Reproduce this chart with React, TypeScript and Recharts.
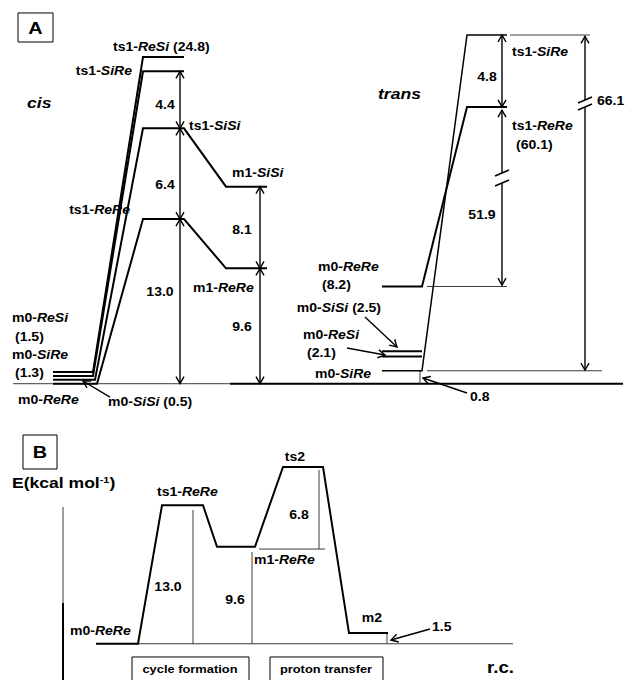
import React from "react";
import {
  ComposedChart,
  Line,
  XAxis,
  YAxis,
  ReferenceLine,
  ReferenceDot,
  ReferenceArea,
} from "recharts";

const FONT = '"Liberation Sans", Arial, Helvetica, sans-serif';
const SX = 1.17; // the original lettering is stretched sideways
const INK = "#000";
const THIN = "#3a3a3a";

// ---------- panel A, cis (drawn level heights) ----------
const cisIsomers = ["ReSi", "SiRe", "SiSi", "ReRe"];
const cisM0 = [0.9, 0.6, 0.3, 0];
const cisTs1 = [25.2, 24.1, 19.7, 12.7];
const cisM1: (number | null)[] = [null, null, 15.2, 8.9];
const cisM0X = [53, 93, 93, 95, 97]; // start, then end for each isomer
const cisTs1X = [143, 184];
const cisM1X = [226, 267];

// ---------- panel A, trans ----------
const transIsomers = ["ReRe", "SiSi", "ReSi", "SiRe"];
const transM0 = [7.5, 2.5, 2.1, 1.0];
const transTs1: (number | null)[] = [21.35, null, null, 26.9];
const transM0X = [382, 422];
const transTs1X = [467, 507];

// ---------- panel B ----------
const bStages = ["m0-ReRe", "ts1-ReRe", "m1-ReRe", "ts2", "m2"];
const bEnergy = [0, 13.0, 9.1, 16.6, 1.0];
const bStageX = [
  [96, 138],
  [162, 203],
  [217, 255],
  [283, 323],
  [349, 388],
];

type P = { x: number; y: number };

const cisPaths = cisIsomers.map((iso, i) => {
  const pts: P[] = [
    { x: cisM0X[0], y: cisM0[i] },
    { x: cisM0X[i + 1], y: cisM0[i] },
    { x: cisTs1X[0], y: cisTs1[i] },
    { x: cisTs1X[1], y: cisTs1[i] },
  ];
  const m1 = cisM1[i];
  if (m1 != null) pts.push({ x: cisM1X[0], y: m1 }, { x: cisM1X[1], y: m1 });
  return { iso, pts };
});

const transPaths = transIsomers.map((iso, i) => {
  const pts: P[] = [
    { x: transM0X[0], y: transM0[i] },
    { x: transM0X[1], y: transM0[i] },
  ];
  const ts = transTs1[i];
  if (ts != null) pts.push({ x: transTs1X[0], y: ts }, { x: transTs1X[1], y: ts });
  return { iso, pts };
});

const bPath: P[] = bStages.flatMap((_, i) => [
  { x: bStageX[i][0], y: bEnergy[i] },
  { x: bStageX[i][1], y: bEnergy[i] },
]);

// thin guide lines [x1, y1, x2, y2, width]
const guidesA = [
  [13, 0, 230, 0, 1],
  [230, 0, 623, 0, 2],
  [427, 7.5, 507, 7.5, 1],
  [427, 1.0, 602, 1.0, 1],
  [510, 26.9, 590, 26.9, 1],
  [420, 1.0, 420, 0, 1],
];

// double-headed measuring arrows [x, top, bottom]
const spansA = [
  [180, 24.1, 19.7],
  [180, 19.7, 12.7],
  [180, 12.7, 0],
  [260, 15.2, 8.9],
  [260, 8.9, 0],
  [502, 26.9, 21.35],
];
// arrows with a break [x, top, breakUpper, breakLower, bottom]
const brokenA = [
  [502, 21.1, 16.25, 15.48, 7.6],
  [585, 26.8, 21.89, 21.35, 1.05],
];
// pointer arrows [fromX, fromY, toX, toY]
const pointersA = [
  [110, -1.03, 83, 0.21],
  [467, -0.72, 423, 0.44],
  [365, 5.15, 397, 2.83],
  [347, 2.75, 385, 2.21],
];

// text [label, x, y, anchor, size]
const labelsA: [string, number, number, string?, number?][] = [
  ["ts1-*ReSi* (24.8)", 113, 25.97],
  ["ts1-*SiRe*", 132, 24.12, "end"],
  ["ts1-*SiSi*", 189, 19.88],
  ["m1-*SiSi*", 232, 16.25],
  ["ts1-*ReRe*", 130, 13.4, "end"],
  ["m1-*ReRe*", 193, 7.38],
  ["m0-*ReSi*", 12, 5.07],
  ["(1.5)", 15, 3.6],
  ["m0-*SiRe*", 12, 2.21],
  ["(1.3)", 15, 0.83],
  ["m0-*ReRe*", 18, -1.26],
  ["m0-*SiSi* (0.5)", 108, -1.41],
  ["4.4", 165, 21.5, "middle"],
  ["6.4", 165, 15.33, "middle"],
  ["13.0", 160, 7.07, "middle"],
  ["8.1", 242, 11.86, "middle"],
  ["9.6", 242, 4.37, "middle"],
  ["ts1-*SiRe*", 512, 25.59],
  ["4.8", 487, 23.66, "middle"],
  ["66.1", 597, 21.81],
  ["ts1-*ReRe*", 512, 19.88],
  ["(60.1)", 516, 18.41],
  ["51.9", 482, 13.01, "middle"],
  ["m0-*ReRe*", 318, 9.0],
  ["(8.2)", 322, 7.61],
  ["m0-*SiSi* (2.5)", 381, 5.84, "end"],
  ["m0-*ReSi*", 303, 3.76],
  ["(2.1)", 307, 2.37],
  ["m0-*SiRe*", 315, 0.75],
  ["0.8", 470, -1.03],
  ["*cis*", 27, 21.65, "start", 15],
  ["*trans*", 378, 22.35, "start", 15],
  ["A", 35.5, 27.44, "middle", 17],
];

const guidesB = [
  [138, 0, 513, 0, 1],
  [63, 12.84, 63, 3.83, 1],
  [63, 3.83, 63, -3.6, 2],
  [193, 12.55, 193, 0, 1],
  [252, 8.61, 252, 0, 1],
  [259, 8.89, 325, 8.89, 1],
  [319, 16.31, 319, 8.89, 1],
  [387, 1.0, 387, 0, 1],
];
const pointersB = [[430, 1.39, 391, 0.35]];
const labelsB: [string, number, number, string?, number?][] = [
  ["E(kcal mol^-1^)", 12, 15.09, "start", 15],
  ["ts1-*ReRe*", 157, 14.24],
  ["ts2", 295, 17.53, "middle"],
  ["6.8", 299, 12.08, "middle"],
  ["m1-*ReRe*", 254, 7.86],
  ["13.0", 168, 5.33, "middle"],
  ["9.6", 235, 4.11, "middle"],
  ["m0-*ReRe*", 70, 1.2],
  ["m2", 372, 2.42, "middle"],
  ["1.5", 432, 1.57],
  ["r.c.", 487, -2.18, "start", 16],
  ["cycle formation", 190, -2.37, "middle", 11],
  ["proton transfer", 326, -2.37, "middle", 11],
  ["B", 40, 18.0, "middle", 17],
];
// boxes [x1, x2, y1, y2]
const boxesA = [[18, 53, 28.6, 26.36]];
const boxesB = [
  [23, 57, 19.59, 16.4],
  [132, 249, -1.24, -3.7],
  [270, 383, -1.24, -3.7],
];

function textShape(str: string, anchor: string, size: number) {
  return (p: any) => {
    const parts: React.ReactNode[] = [];
    let italic = false;
    let sup = false;
    let pending = 0;
    str.split(/([*^])/).forEach((t, i) => {
      if (t === "*") {
        italic = !italic;
        return;
      }
      if (t === "^") {
        sup = !sup;
        pending += sup ? -size * 0.38 : size * 0.38;
        return;
      }
      if (!t) return;
      parts.push(
        <tspan
          key={i}
          fontStyle={italic ? "italic" : "normal"}
          fontSize={sup ? size * 0.62 : size}
          dy={pending || undefined}
        >
          {t}
        </tspan>
      );
      pending = 0;
    });
    return (
      <text
        transform={`translate(${p.cx},${p.cy}) scale(${SX},1)`}
        x={0}
        y={0}
        dy="0.36em"
        textAnchor={anchor as any}
        fontFamily={FONT}
        fontWeight="bold"
        fontSize={size}
        fill={INK}
      >
        {parts}
      </text>
    );
  };
}

function head(hx: number, hy: number, fx: number, fy: number, w: number) {
  const dx = hx - fx;
  const dy = hy - fy;
  const len = Math.hypot(dx, dy) || 1;
  const ux = dx / len;
  const uy = dy / len;
  const L = 7;
  const H = 4;
  const bx = hx - ux * L;
  const by = hy - uy * L;
  return (
    <polyline
      points={`${bx - uy * H},${by + ux * H} ${hx},${hy} ${bx + uy * H},${by - ux * H}`}
      fill="none"
      stroke={INK}
      strokeWidth={w}
    />
  );
}

function arrowShape(start: boolean, end: boolean, w = 1.4) {
  return (p: any) => (
    <g>
      <line x1={p.x1} y1={p.y1} x2={p.x2} y2={p.y2} stroke={INK} strokeWidth={w} />
      {start && head(p.x1, p.y1, p.x2, p.y2, w)}
      {end && head(p.x2, p.y2, p.x1, p.y1, w)}
    </g>
  );
}

const breakShape = (p: any) => (
  <line x1={p.cx - 7} y1={p.cy + 3} x2={p.cx + 7} y2={p.cy - 3} stroke={INK} strokeWidth={1.6} />
);

function profile(key: string, data: P[], w = 2) {
  return (
    <Line
      key={key}
      data={data}
      dataKey="y"
      type="linear"
      stroke={INK}
      strokeWidth={w}
      dot={false}
      activeDot={false}
      legendType="none"
      isAnimationActive={false}
    />
  );
}

function seg(key: string, g: number[]) {
  return (
    <ReferenceLine
      key={key}
      segment={[
        { x: g[0], y: g[1] },
        { x: g[2], y: g[3] },
      ]}
      stroke={g[4] > 1 ? INK : THIN}
      strokeWidth={g[4]}
      ifOverflow="visible"
    />
  );
}

function arrow(key: string, a: number[], start: boolean, end: boolean) {
  return (
    <ReferenceLine
      key={key}
      segment={[
        { x: a[0], y: a[1] },
        { x: a[2], y: a[3] },
      ]}
      ifOverflow="visible"
      shape={arrowShape(start, end)}
    />
  );
}

function texts(prefix: string, list: [string, number, number, string?, number?][]) {
  return list.map(([s, x, y, anchor, size], i) => (
    <ReferenceDot
      key={`${prefix}${i}`}
      x={x}
      y={y}
      r={0}
      ifOverflow="visible"
      shape={textShape(s, anchor || "start", size || 12)}
    />
  ));
}

function boxes(prefix: string, list: number[][]) {
  return list.map((b, i) => (
    <ReferenceArea
      key={`${prefix}${i}`}
      x1={b[0]}
      x2={b[1]}
      y1={b[2]}
      y2={b[3]}
      fill="none"
      stroke={INK}
      strokeWidth={1}
      ifOverflow="visible"
    />
  ));
}

export default function App() {
  return (
    <div style={{ position: "absolute", left: 0, top: 0, width: 627, height: 680, background: "#fff", overflow: "hidden" }}>
      <ComposedChart width={627} height={420} margin={{ top: 0, right: 0, bottom: 0, left: 0 }}>
        <XAxis type="number" dataKey="x" domain={[0, 627]} hide allowDataOverflow />
        <YAxis type="number" domain={[-2.8, 29.6]} hide allowDataOverflow />
        {boxes("ba", boxesA)}
        {guidesA.map((g, i) => seg(`ga${i}`, g))}
        {cisPaths.map((c) => profile(`cis-${c.iso}`, c.pts))}
        {transPaths.map((c) => profile(`trans-${c.iso}`, c.pts, c.iso === "SiRe" ? 1.5 : 2))}
        {spansA.map((s, i) => arrow(`sa${i}`, [s[0], s[1], s[0], s[2]], true, true))}
        {brokenA.map((b, i) => [
          arrow(`bt${i}`, [b[0], b[1], b[0], b[2]], true, false),
          arrow(`bb${i}`, [b[0], b[3], b[0], b[4]], false, true),
          <ReferenceDot key={`bm${i}a`} x={b[0]} y={b[2]} r={0} ifOverflow="visible" shape={breakShape} />,
          <ReferenceDot key={`bm${i}b`} x={b[0]} y={b[3]} r={0} ifOverflow="visible" shape={breakShape} />,
        ])}
        {pointersA.map((p, i) => arrow(`pa${i}`, p, false, true))}
        {texts("ta", labelsA)}
      </ComposedChart>
      <ComposedChart width={627} height={260} margin={{ top: 0, right: 0, bottom: 0, left: 0 }}>
        <XAxis type="number" dataKey="x" domain={[0, 627]} hide allowDataOverflow />
        <YAxis type="number" domain={[-3.4, 21]} hide allowDataOverflow />
        {boxes("bb", boxesB)}
        {guidesB.map((g, i) => seg(`gb${i}`, g))}
        {profile("b-path", bPath)}
        {pointersB.map((p, i) => arrow(`pb${i}`, p, false, true))}
        {texts("tb", labelsB)}
      </ComposedChart>
    </div>
  );
}
